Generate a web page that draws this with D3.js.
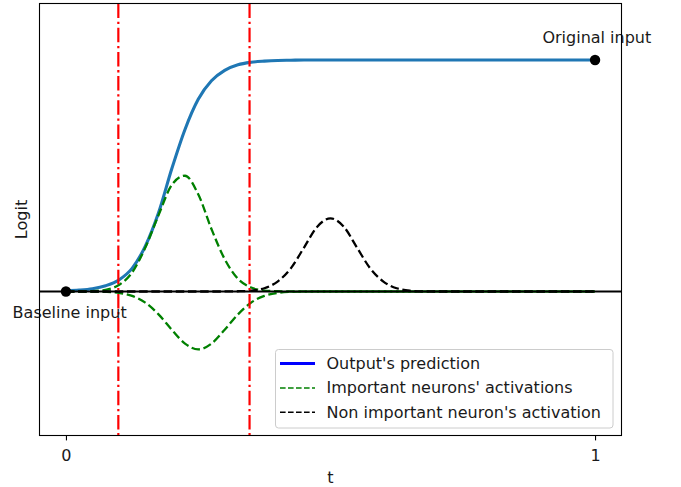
<!DOCTYPE html>
<html>
<head>
<meta charset="utf-8">
<script src="https://cdn.jsdelivr.net/npm/d3@7"></script>
<style>
  html, body { margin: 0; padding: 0; background: #fff; }
  svg { display: block; }
  text { font-family: "DejaVu Sans", sans-serif; fill: #1a1a1a; }
</style>
</head>
<body>
<svg id="chart" width="681" height="487"></svg>
<script>
// ---- data ----
const tValues = [0, 0.025, 0.05, 0.075, 0.1, 0.125, 0.15, 0.175, 0.2, 0.225, 0.25, 0.275, 0.3, 0.325, 0.35, 0.375, 0.4, 0.425, 0.45, 0.475, 0.5, 0.525, 0.55, 0.575, 0.6, 0.625, 0.65, 0.675, 0.7, 0.75, 0.8, 0.85, 0.9, 0.95, 1.0];
const outputPrediction = [0.003, 0.006, 0.012, 0.025, 0.05, 0.10, 0.196, 0.34, 0.53, 0.70, 0.83, 0.91, 0.955, 0.979, 0.99, 0.995, 0.998, 0.999, 1.0, 1.0, 1.0, 1.0, 1.0, 1.0, 1.0, 1.0, 1.0, 1.0, 1.0, 1.0, 1.0, 1.0, 1.0, 1.0, 1.0];
const importantUp = [0, 0.0003, 0.0015, 0.0075, 0.028, 0.082, 0.19, 0.33, 0.46, 0.50, 0.42, 0.27, 0.14, 0.055, 0.017, 0.004, 0.001, 0, 0, 0, 0, 0, 0, 0, 0, 0, 0, 0, 0, 0, 0, 0, 0, 0, 0];
const importantDown = [0, 0, -0.0003, -0.0016, -0.006, -0.019, -0.048, -0.099, -0.165, -0.225, -0.25, -0.225, -0.165, -0.099, -0.048, -0.019, -0.006, -0.0016, -0.0003, 0, 0, 0, 0, 0, 0, 0, 0, 0, 0, 0, 0, 0, 0, 0, 0];
const nonImportant = [0, 0, 0, 0, 0, 0, 0, 0, 0, 0, 0, 0, 0.0002, 0.001, 0.0035, 0.014, 0.043, 0.10, 0.19, 0.28, 0.316, 0.28, 0.19, 0.10, 0.043, 0.014, 0.0035, 0.0007, 0, 0, 0, 0, 0, 0, 0];
const redLines = [0.099, 0.347];
const endPoints = [{t: 0, v: 0, label: "Baseline input"}, {t: 1, v: 1, label: "Original input"}];
const xTicks = [0, 1];
const legendLabels = ["Output's prediction", "Important neurons' activations", "Non important neuron's activation"];

// ---- layout ----
const FS = "16px";
const svg = d3.select("#chart");
const L = 39.5, R = 621.5, T = 3.5, B = 435.5;
const x = d3.scaleLinear().domain([-0.05, 1.05]).range([L, R]);
const y = d3.scaleLinear().domain([-0.622, 1.244]).range([B, T]);

svg.append("defs").append("clipPath").attr("id", "clip")
  .append("rect").attr("x", L).attr("y", T).attr("width", R - L).attr("height", B - T);

const plot = svg.append("g").attr("clip-path", "url(#clip)");

const line = (vals) => d3.line()
  .x((d, i) => x(tValues[i]))
  .y(d => y(d))
  .curve(d3.curveMonotoneX)(vals);

// sigmoid
plot.append("path").attr("d", line(outputPrediction))
  .attr("fill", "none").attr("stroke", "#1f77b4").attr("stroke-width", 3.1);

// important neurons
[importantUp, importantDown].forEach(vals => {
  plot.append("path").attr("d", line(vals))
    .attr("fill", "none").attr("stroke", "#008000").attr("stroke-width", 2.3)
    .attr("stroke-dasharray", "8.5,3.7");
});
// non important
plot.append("path").attr("d", line(nonImportant))
  .attr("fill", "none").attr("stroke", "#000").attr("stroke-width", 2.3)
  .attr("stroke-dasharray", "8.5,3.7");

// horizontal zero line
plot.append("line").attr("x1", L).attr("x2", R).attr("y1", y(0)).attr("y2", y(0))
  .attr("stroke", "#000").attr("stroke-width", 2.2);

// red dash-dot lines
plot.selectAll(".vline").data(redLines).enter().append("line")
  .attr("x1", d => x(d)).attr("x2", d => x(d)).attr("y1", T).attr("y2", B)
  .attr("stroke", "#ff0000").attr("stroke-width", 2.2)
  .attr("stroke-dasharray", "14.5,3.7,2.3,3.7");

// end points
svg.selectAll(".pt").data(endPoints).enter().append("circle")
  .attr("cx", d => x(d.t)).attr("cy", d => y(d.v)).attr("r", 5.2).attr("fill", "#000");

svg.append("text").attr("x", x(0) + 3.7).attr("y", 317.5).attr("text-anchor", "middle")
  .attr("font-size", FS).text(endPoints[0].label);
svg.append("text").attr("x", x(1) + 1.8).attr("y", 42.7).attr("text-anchor", "middle")
  .attr("font-size", FS).text(endPoints[1].label);

// frame
svg.append("rect").attr("x", L).attr("y", T).attr("width", R - L).attr("height", B - T)
  .attr("fill", "none").attr("stroke", "#000").attr("stroke-width", 1.1);

// x axis ticks
const axis = d3.axisBottom(x).tickValues(xTicks).tickFormat(d3.format("d")).tickSize(4.9).tickPadding(5.5);
const ag = svg.append("g").attr("transform", `translate(0,${B})`).call(axis);
ag.select(".domain").remove();
ag.selectAll(".tick line").attr("stroke", "#000").attr("stroke-width", 1.1);
ag.selectAll(".tick text").attr("font-size", FS).attr("font-family", "DejaVu Sans").attr("fill", "#1a1a1a")
  .attr("y", 25.2).attr("dy", 0);

// axis labels
svg.append("text").attr("x", (L + R) / 2).attr("y", 482.5).attr("text-anchor", "middle")
  .attr("font-size", FS).text("t");
svg.append("text").attr("transform", `translate(27,${(T + B) / 2}) rotate(-90)`)
  .attr("text-anchor", "middle").attr("font-size", FS).text("Logit");

// legend
const lg = svg.append("g");
lg.append("rect").attr("x", 275.5).attr("y", 349.5).attr("width", 337.5).attr("height", 78.5)
  .attr("rx", 3).attr("fill", "#fff").attr("fill-opacity", 0.8)
  .attr("stroke", "#cccccc").attr("stroke-width", 1);
const legendStyles = [
  {color: "#0000ff", width: 2.9, dash: null},
  {color: "#008000", width: 1.5, dash: "5.6,2.4"},
  {color: "#000000", width: 1.5, dash: "5.6,2.4"}
];
legendLabels.forEach((lab, i) => {
  const by = 369 + i * 24.4;
  const s = legendStyles[i];
  const ln = lg.append("line").attr("x1", 280).attr("x2", 315).attr("y1", by - 5.5).attr("y2", by - 5.5)
    .attr("stroke", s.color).attr("stroke-width", s.width);
  if (s.dash) ln.attr("stroke-dasharray", s.dash);
  lg.append("text").attr("x", 326.5).attr("y", by).attr("font-size", FS).text(lab);
});
</script>
</body>
</html>
